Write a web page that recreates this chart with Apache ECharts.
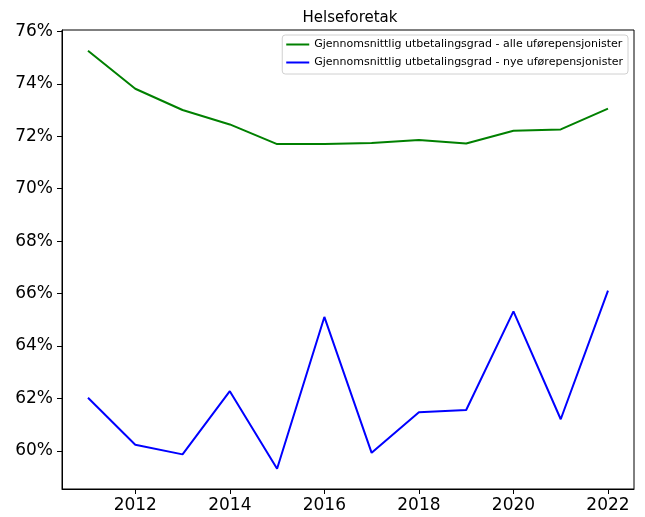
<!DOCTYPE html>
<html>
<head>
<meta charset="utf-8">
<script src="https://cdn.jsdelivr.net/npm/echarts@6/dist/echarts.min.js"></script>
<style>
  html, body { margin: 0; padding: 0; background: #fff; }
  #chart { width: 645px; height: 517px; }
</style>
</head>
<body>
<div id="chart"></div>
<script>
    var years = [2011, 2012, 2013, 2014, 2015, 2016, 2017, 2018, 2019, 2020, 2021, 2022];
    // utbetalingsgrad i prosent
    var alle = [75.26, 73.81, 73.00, 72.45, 71.70, 71.70, 71.74, 71.86, 71.72, 72.21, 72.26, 73.05];
    var nye = [62.03, 60.24, 59.87, 62.28, 59.32, 65.11, 59.93, 61.48, 61.56, 65.32, 61.21, 66.11];
    var xTicks = [2012, 2014, 2016, 2018, 2020, 2022];
    var yTicks = [60, 62, 64, 66, 68, 70, 72, 74, 76];
    var seriesNames = [
        'Gjennomsnittlig utbetalingsgrad - alle uførepensjonister',
        'Gjennomsnittlig utbetalingsgrad - nye uførepensjonister'
    ];

    function pairs(vals) {
        return years.map(function (y, i) { return [y, vals[i]]; });
    }

    var font = 'DejaVu Sans';
    var myChart = echarts.init(document.getElementById('chart'));
    var option = {
        animation: false,
        title: {
            text: 'Helseforetak',
            left: 345,
            textAlign: 'center',
            top: 6,
            textStyle: { fontFamily: font, fontSize: 15, fontWeight: 'normal', color: '#000' }
        },
        legend: {
            orient: 'vertical',
            right: 17,
            top: 35,
            padding: [4, 5, 6, 4],
            icon: 'rect',
            itemWidth: 23,
            itemHeight: 2,
            itemGap: 7,
            borderColor: '#d0d0d0',
            borderWidth: 1,
            borderRadius: 3,
            backgroundColor: 'rgba(255,255,255,0.8)',
            textStyle: { fontFamily: font, fontSize: 11, color: '#000' },
            data: seriesNames
        },
        grid: {
            left: 62, right: 11, top: 30, bottom: 28,
            show: true, borderColor: '#000', borderWidth: 1
        },
        xAxis: {
            type: 'value',
            min: 2010.45,
            max: 2022.55,
            splitLine: { show: false },
            axisLine: { show: true, lineStyle: { color: '#000', width: 1 } },
            axisTick: { show: true, length: 5, customValues: xTicks, lineStyle: { color: '#000' } },
            axisLabel: {
                customValues: xTicks,
                margin: 8,
                fontFamily: font, fontSize: 17, color: '#000',
                formatter: function (v) { return String(v); }
            }
        },
        yAxis: {
            type: 'value',
            min: 58.55,
            max: 76.05,
            splitLine: { show: false },
            axisLine: { show: true, lineStyle: { color: '#000', width: 1 } },
            axisTick: { show: true, length: 5, customValues: yTicks, lineStyle: { color: '#000' } },
            axisLabel: {
                customValues: yTicks,
                margin: 9,
                fontFamily: font, fontSize: 17, color: '#000',
                formatter: function (v) { return v + '%'; }
            }
        },
        series: [{
            name: seriesNames[0],
            type: 'line',
            data: pairs(alle),
            symbol: 'none',
            color: '#008000',
            lineStyle: { width: 2, color: '#008000' }
        }, {
            name: seriesNames[1],
            type: 'line',
            data: pairs(nye),
            symbol: 'none',
            color: '#0000ff',
            lineStyle: { width: 2, color: '#0000ff' }
        }]
    };
    myChart.setOption(option);
</script>
</body>
</html>
